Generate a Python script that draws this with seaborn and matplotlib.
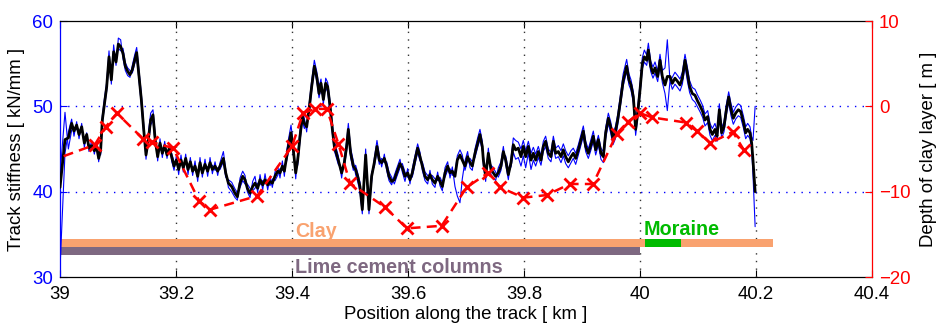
import matplotlib
matplotlib.use("Agg")
import matplotlib.pyplot as plt
import seaborn as sns
import pandas as pd

# ---------------- data ----------------
position_km = [
    39.000, 39.0086, 39.0144, 39.0201, 39.0241, 39.0287, 39.0328, 39.0374, 39.0420, 39.0460,
    39.0500, 39.0546, 39.0592, 39.0632, 39.0667, 39.0701, 39.0730, 39.0764, 39.0805, 39.0845,
    39.0885, 39.0925, 39.0966, 39.1006, 39.1046, 39.1086, 39.1126, 39.1167, 39.1207, 39.1247,
    39.1287, 39.1322, 39.1362, 39.1402, 39.1443, 39.1483, 39.1523, 39.1563, 39.1603, 39.1644,
    39.1684, 39.1724, 39.1764, 39.1805, 39.1845, 39.1885, 39.1925, 39.1966, 39.2006, 39.2046,
    39.2086, 39.2126, 39.2167, 39.2207, 39.2247, 39.2287,
    39.2328, 39.2374, 39.2414, 39.2454, 39.2500, 39.2546, 39.2587, 39.2627, 39.2673, 39.2719,
    39.2759, 39.2817, 39.2857, 39.2903, 39.2960, 39.3018, 39.3058, 39.3104, 39.3150, 39.3190,
    39.3230, 39.3276, 39.3322, 39.3362, 39.3408, 39.3449, 39.3495, 39.3535, 39.3581, 39.3621,
    39.3661, 39.3707, 39.3753, 39.3793, 39.3834, 39.3868, 39.3908, 39.3949, 39.3983, 39.4023,
    39.4064, 39.4098, 39.4138, 39.4179, 39.4213, 39.4253, 39.4294, 39.4339, 39.4385, 39.4426,
    39.4466, 39.4500, 39.4541, 39.4581, 39.4615, 39.4656, 39.4696, 39.4730,
    39.4798, 39.4856, 39.4902, 39.4942, 39.4971, 39.5011, 39.5057, 39.5097, 39.5132, 39.5172,
    39.5212, 39.5270, 39.5327, 39.5373, 39.5419, 39.5465, 39.5505, 39.5546, 39.5592, 39.5632,
    39.5672, 39.5718, 39.5764, 39.5804, 39.5862, 39.5902, 39.5948, 39.5994, 39.6034, 39.6074,
    39.6120, 39.6166, 39.6207, 39.6247, 39.6293, 39.6339, 39.6379, 39.6419, 39.6465, 39.6511,
    39.6551, 39.6592, 39.6638, 39.6684, 39.6724, 39.6764, 39.6810, 39.6850, 39.6896, 39.6936,
    39.6982, 39.7028, 39.7069, 39.7109, 39.7155, 39.7201, 39.7241, 39.7281,
    39.7299, 39.7339, 39.7385, 39.7431, 39.7471, 39.7511, 39.7557, 39.7603, 39.7644, 39.7684,
    39.7730, 39.7776, 39.7816, 39.7856, 39.7902, 39.7948, 39.7988, 39.8029, 39.8075, 39.8121,
    39.8161, 39.8201, 39.8247, 39.8293, 39.8333, 39.8373, 39.8419, 39.8465, 39.8506, 39.8546,
    39.8592, 39.8638, 39.8678, 39.8718, 39.8764, 39.8810, 39.8850, 39.8891, 39.8937, 39.8983,
    39.9023, 39.9063, 39.9109, 39.9155, 39.9195, 39.9236, 39.9282, 39.9327, 39.9368, 39.9408,
    39.9454, 39.9494, 39.9534, 39.9575, 39.9615, 39.9660, 39.9710,
    39.9770, 39.9810, 39.9845, 39.9885, 39.9925, 39.9960, 40.0000, 40.0040, 40.0075, 40.0115,
    40.0144, 40.0184, 40.0224, 40.0259, 40.0305, 40.0345, 40.0385, 40.0431, 40.0471, 40.0517,
    40.0557, 40.0603, 40.0649, 40.0690, 40.0730, 40.0776, 40.0816, 40.0856, 40.0902, 40.0948,
    40.0994, 40.1040, 40.1080, 40.1121, 40.1167, 40.1207, 40.1247, 40.1293, 40.1328, 40.1368,
    40.1408, 40.1448, 40.1489, 40.1529, 40.1569, 40.1609, 40.1649, 40.1695, 40.1736, 40.1782,
    40.1822, 40.1856, 40.1897, 40.1925, 40.1948, 40.1985,
]

stiffness_mean = [
    40.5, 46.1, 46.3, 48.0, 47.1, 47.8, 46.7, 47.6, 45.7, 46.7,
    45.1, 45.4, 44.8, 45.2, 43.9, 44.9, 48.4, 50.2, 52.3, 55.8,
    53.1, 56.4, 55.2, 57.3, 57.0, 56.2, 54.7, 54.1, 53.7, 54.3,
    55.4, 56.3, 53.5, 50.8, 47.3, 44.3, 46.1, 48.4, 49.0, 45.9,
    44.1, 45.7, 44.5, 45.4, 44.3, 45.1, 44.1, 43.0, 43.7, 42.6,
    43.7, 42.8, 43.9, 42.6, 43.5, 42.4,
    43.0, 41.8, 43.4, 42.2, 43.2, 42.4, 43.4, 42.6, 43.0, 42.4,
    43.0, 43.9, 42.2, 41.0, 40.6, 39.8, 39.4, 41.0, 41.8, 41.4,
    40.4, 39.8, 40.6, 41.0, 40.4, 41.4, 40.8, 41.4, 40.8, 41.2,
    41.0, 41.8, 42.4, 42.2, 43.0, 42.4, 44.1, 45.7, 46.9, 44.9,
    42.2, 43.7, 46.5, 48.8, 48.0, 47.6, 49.6, 52.3, 54.7, 53.5,
    51.5, 52.7, 50.8, 52.7, 52.3, 50.0, 47.3, 45.3,
    43.7, 42.2, 43.4, 45.3, 47.3, 44.5, 43.0, 42.6, 41.8, 40.6,
    37.9, 44.3, 37.9, 41.8, 43.4, 45.3, 43.7, 43.4, 43.9, 43.0,
    41.8, 41.2, 41.4, 42.2, 43.3, 42.8, 41.8, 42.2, 41.4, 42.2,
    43.7, 45.1, 44.1, 43.0, 41.8, 41.4, 42.0, 41.4, 41.0, 41.8,
    41.2, 40.6, 42.2, 43.0, 42.2, 42.4, 41.8, 43.7, 44.3, 43.7,
    43.0, 44.1, 43.4, 43.0, 44.5, 45.7, 46.7, 45.3,
    43.7, 41.8, 44.5, 42.6, 42.2, 41.8, 42.2, 43.0, 44.7, 43.7,
    42.0, 43.4, 45.5, 44.9, 45.1, 44.1, 45.3, 44.1, 45.3, 43.7,
    44.5, 43.7, 44.7, 43.7, 45.3, 45.9, 44.5, 44.1, 45.9, 44.5,
    44.7, 44.1, 44.9, 44.1, 43.5, 44.1, 44.5, 43.9, 44.9, 46.1,
    47.1, 45.3, 44.5, 45.5, 46.5, 44.9, 46.1, 44.5, 44.1, 46.9,
    48.6, 47.6, 46.2, 47.0, 48.4, 50.5, 53.0,
    54.7, 53.1, 52.5, 51.1, 47.3, 49.2, 51.9, 55.0, 55.8, 55.4,
    56.6, 54.7, 53.9, 54.5, 53.5, 55.4, 53.5, 52.5, 53.5, 53.5,
    52.7, 53.3, 52.9, 52.5, 53.3, 55.4, 53.9, 52.3, 51.5, 51.3,
    50.6, 50.0, 49.4, 48.4, 48.8, 47.3, 46.7, 47.3, 46.5, 49.6,
    46.9, 47.6, 49.6, 51.1, 49.6, 48.6, 49.2, 49.6, 49.4, 48.2,
    46.9, 47.3, 46.9, 45.7, 43.7, 40.0,
]

stiffness_run1 = [
    31.0, 44.5, 47.0, 48.5, 46.5, 48.2, 46.2, 48.0, 45.2, 46.9,
    44.7, 46.0, 44.4, 45.8, 43.5, 45.4, 48.9, 50.8, 52.8, 56.5,
    52.6, 57.2, 54.8, 58.0, 57.8, 55.6, 54.2, 53.6, 53.4, 54.8,
    56.0, 56.9, 54.2, 51.5, 47.9, 43.8, 46.8, 49.2, 49.6, 46.5,
    43.6, 46.2, 44.0, 45.9, 43.9, 45.6, 43.6, 42.5, 44.2, 42.0,
    44.3, 42.3, 44.4, 42.0, 44.0, 41.9,
    43.6, 41.2, 44.0, 41.7, 43.8, 41.8, 44.0, 42.1, 43.5, 41.9,
    43.4, 44.7, 42.6, 40.5, 40.0, 39.3, 39.0, 41.6, 42.4, 41.9,
    40.0, 39.3, 41.2, 41.8, 39.9, 42.0, 40.2, 42.1, 40.2, 41.8,
    40.5, 42.3, 43.0, 41.6, 43.6, 41.8, 44.8, 46.5, 47.8, 45.5,
    41.5, 44.3, 47.2, 49.4, 48.6, 47.0, 50.2, 53.0, 55.4, 54.1,
    52.3, 53.2, 50.2, 53.3, 52.8, 50.6, 47.9, 45.9,
    44.2, 41.6, 43.9, 45.9, 48.0, 45.1, 43.6, 42.0, 41.2, 40.0,
    37.4, 45.0, 37.4, 41.2, 43.9, 46.0, 44.3, 42.9, 44.4, 42.5,
    41.3, 40.8, 41.9, 42.7, 43.8, 42.3, 41.2, 42.7, 40.9, 42.7,
    44.2, 45.6, 44.6, 42.5, 41.3, 40.9, 42.5, 40.9, 40.5, 42.3,
    40.7, 40.1, 42.8, 43.5, 41.6, 42.9, 40.6, 39.5, 38.7, 41.5,
    43.6, 44.7, 42.8, 42.5, 45.0, 46.3, 47.3, 45.9,
    43.1, 41.2, 45.1, 42.0, 41.6, 41.3, 42.8, 43.5, 45.3, 43.2,
    41.4, 43.9, 46.3, 46.0, 45.8, 45.0, 46.0, 44.8, 45.9, 44.5,
    45.2, 44.4, 45.3, 44.2, 45.9, 46.5, 45.0, 44.6, 46.5, 45.1,
    45.4, 44.8, 45.6, 44.8, 44.2, 44.8, 45.1, 44.5, 45.5, 46.7,
    47.7, 45.9, 45.0, 46.1, 47.1, 45.4, 46.6, 45.1, 44.7, 47.5,
    49.2, 48.2, 46.8, 47.6, 49.0, 51.2, 53.8,
    55.5, 53.8, 53.1, 51.7, 47.9, 49.9, 52.6, 55.7, 56.6, 56.0,
    57.4, 55.3, 54.6, 55.2, 54.1, 56.1, 54.2, 54.5, 57.8, 53.0,
    53.4, 54.0, 53.6, 53.2, 54.0, 56.1, 54.6, 53.0, 52.2, 52.0,
    51.3, 50.7, 50.1, 49.1, 49.5, 48.0, 47.4, 48.0, 47.1, 50.3,
    47.5, 48.2, 50.2, 51.7, 50.3, 49.3, 49.9, 50.3, 50.1, 48.9,
    47.6, 48.0, 47.6, 46.4, 46.0, 50.0,
]

stiffness_run2 = [
    42.0, 49.3, 45.0, 47.2, 47.5, 47.3, 47.0, 47.1, 46.2, 46.2,
    45.5, 45.0, 45.3, 44.9, 44.4, 44.3, 48.0, 49.8, 51.8, 55.2,
    53.6, 56.0, 55.9, 56.8, 56.5, 56.8, 55.1, 54.5, 54.2, 53.9,
    55.0, 55.8, 53.0, 50.2, 46.8, 44.9, 45.5, 47.8, 48.4, 45.3,
    44.6, 45.2, 45.0, 44.9, 44.8, 44.6, 44.5, 43.5, 43.2, 43.0,
    43.2, 43.3, 43.4, 43.1, 43.0, 42.9,
    42.5, 42.3, 42.9, 42.7, 42.7, 42.9, 42.9, 43.1, 42.5, 42.8,
    42.6, 43.5, 41.7, 41.4, 41.1, 40.3, 39.9, 40.5, 41.3, 40.9,
    40.9, 40.4, 40.1, 40.4, 41.0, 40.8, 41.3, 40.9, 41.2, 40.7,
    41.5, 41.3, 41.9, 42.7, 42.5, 42.9, 43.6, 45.0, 46.3, 44.3,
    42.8, 43.1, 45.9, 48.3, 47.4, 48.1, 49.0, 51.8, 54.2, 53.0,
    51.0, 52.2, 51.3, 52.2, 51.7, 49.5, 46.8, 44.8,
    43.2, 42.7, 42.9, 44.8, 46.8, 44.0, 42.5, 43.1, 42.2, 41.1,
    38.4, 43.7, 38.5, 42.3, 42.9, 44.8, 43.2, 43.9, 43.4, 43.5,
    42.3, 41.7, 40.9, 41.7, 42.8, 43.3, 42.3, 41.7, 41.9, 41.7,
    43.2, 44.6, 43.6, 43.5, 42.3, 41.9, 41.5, 41.9, 41.5, 41.3,
    41.7, 41.1, 41.7, 42.5, 42.7, 41.9, 42.3, 44.2, 44.9, 44.3,
    42.5, 43.6, 43.9, 43.5, 44.0, 45.2, 46.1, 44.8,
    44.2, 42.4, 43.9, 43.1, 42.8, 42.3, 41.7, 42.5, 44.2, 44.2,
    42.6, 42.9, 44.6, 43.8, 44.0, 43.0, 44.2, 42.8, 44.5, 42.6,
    43.7, 43.0, 44.0, 43.1, 44.7, 45.3, 43.9, 43.5, 45.2, 43.9,
    44.1, 43.4, 44.2, 43.3, 42.8, 43.4, 43.9, 43.2, 44.3, 45.5,
    46.5, 44.7, 43.9, 44.9, 45.9, 44.3, 45.5, 43.8, 43.4, 46.2,
    48.0, 46.9, 45.5, 46.2, 47.8, 49.9, 52.4,
    54.1, 52.5, 51.9, 50.4, 46.6, 48.6, 51.3, 54.4, 55.2, 54.8,
    56.0, 54.1, 53.3, 53.9, 52.9, 54.8, 52.8, 51.5, 49.5, 53.0,
    52.0, 52.6, 52.2, 51.8, 52.6, 54.7, 53.0, 51.6, 50.8, 50.5,
    49.9, 49.3, 48.7, 47.7, 48.1, 46.6, 46.0, 46.6, 45.9, 48.9,
    46.3, 47.0, 49.0, 50.5, 48.9, 47.9, 48.5, 48.9, 48.7, 47.5,
    46.2, 46.6, 46.2, 45.0, 42.0, 35.9,
]

depth_pos_km = [38.98, 39.060, 39.079, 39.098, 39.143, 39.159, 39.195, 39.240, 39.259,
                39.340, 39.400, 39.419, 39.440, 39.460, 39.480, 39.500, 39.560, 39.598,
                39.658, 39.701, 39.738, 39.759, 39.799, 39.839, 39.879, 39.919, 39.960,
                39.979, 40.000, 40.021, 40.079, 40.098, 40.121, 40.160, 40.179]
depth_m = [-6.5, -4.5, -2.4, -0.8, -3.8, -4.2, -4.9, -11.1, -12.1,
           -10.5, -4.7, -0.8, -0.3, -0.3, -4.4, -9.0, -11.8, -14.3,
           -14.0, -9.5, -7.8, -9.5, -10.7, -10.4, -9.1, -9.1, -3.2,
           -1.8, -0.8, -1.3, -1.9, -2.9, -4.3, -3.0, -5.1]

layer_names = ["Clay", "Moraine", "Lime cement columns"]
layer_start_km = [39.0, 40.009, 39.0]
layer_end_km = [40.229, 40.070, 40.0]

x_ticks = [39.0, 39.2, 39.4, 39.6, 39.8, 40.0, 40.2, 40.4]
x_tick_labels = ["39", "39.2", "39.4", "39.6", "39.8", "40", "40.2", "40.4"]
left_ticks = [30, 40, 50, 60]
left_tick_labels = ["30", "40", "50", "60"]
right_ticks = [-20, -10, 0, 10]
right_tick_labels = ["\u221220", "\u221210", "0", "10"]

# ---------------- style ----------------
sns.set_theme(style="white")
plt.rcParams["font.family"] = ["Liberation Sans", "DejaVu Sans"]

C_BLUE = "#0000FF"
C_RED = "#FF0000"
C_CLAY = "#F9A26F"
C_LIME = "#7E6881"
C_MOR = "#00BB00"
DOT = (0, (1, 4.5))
FS = 13.4

fig = plt.figure(figsize=(9.37, 3.29), dpi=100)
ax = fig.add_axes([60 / 937, 52 / 329, 812 / 937, 256 / 329])
ax2 = ax.twinx()

df = pd.DataFrame({"pos": position_km, "mean": stiffness_mean,
                   "run1": stiffness_run1, "run2": stiffness_run2})

# blue individual runs, then black mean
for col in ["run1", "run2"]:
    sns.lineplot(data=df, x="pos", y=col, ax=ax, color=C_BLUE, linewidth=0.8,
                 estimator=None, sort=False, zorder=3)
sns.lineplot(data=df, x="pos", y="mean", ax=ax, color="black", linewidth=2.0,
             estimator=None, sort=False, zorder=4)

# layer bars
ax.barh(y=34.0, width=layer_end_km[0] - layer_start_km[0], left=layer_start_km[0],
        height=0.95, color=C_CLAY, zorder=2, linewidth=0)
ax.barh(y=34.0, width=layer_end_km[1] - layer_start_km[1], left=layer_start_km[1],
        height=0.95, color=C_MOR, zorder=2.1, linewidth=0)
ax.barh(y=33.0, width=layer_end_km[2] - layer_start_km[2], left=layer_start_km[2],
        height=0.95, color=C_LIME, zorder=2, linewidth=0)
ax.text(39.406, 35.35, layer_names[0], color=C_CLAY, fontsize=14.2, fontweight="bold",
        ha="left", va="center", zorder=5)
ax.text(40.006, 35.55, layer_names[1], color=C_MOR, fontsize=14.2, fontweight="bold",
        ha="left", va="center", zorder=5)
ax.text(39.406, 31.1, layer_names[2], color=C_LIME, fontsize=14.2, fontweight="bold",
        ha="left", va="center", zorder=5)

# depth of clay layer (right axis)
sns.lineplot(x=depth_pos_km, y=depth_m, ax=ax2, color=C_RED, linewidth=1.8,
             linestyle=(0, (4, 2.5)), marker="x", markersize=8,
             markeredgewidth=2, markeredgecolor=C_RED, estimator=None, sort=False)

# axes limits / ticks
ax.set_xlim(39.0, 40.4)
ax.set_ylim(30, 60)
ax2.set_ylim(-20, 10)
ax.set_xticks(x_ticks)
ax.set_xticklabels(x_tick_labels)
ax.set_yticks(left_ticks)
ax.set_yticklabels(left_tick_labels)
ax2.set_yticks(right_ticks)
ax2.set_yticklabels(right_tick_labels)

# grid
for xv in x_ticks[1:-1]:
    ax.axvline(xv, color="#333333", linewidth=1.0, linestyle=DOT, zorder=1)
for yv in left_ticks[1:-1]:
    ax.axhline(yv, color=C_BLUE, linewidth=1.0, linestyle=DOT, zorder=1)

ax.tick_params(axis="x", direction="in", length=5, width=0.8, colors="black",
               labelsize=FS, top=True, bottom=True, pad=6.5)
ax.tick_params(axis="y", direction="in", length=5, width=0.8, colors=C_BLUE,
               labelsize=FS, left=True, right=False, pad=5)
ax2.tick_params(axis="y", direction="in", length=5, width=0.8, colors=C_RED,
                labelsize=FS, right=True, left=False, pad=5)

for s in ["top", "bottom"]:
    ax.spines[s].set_color("black")
    ax.spines[s].set_linewidth(0.9)
    ax2.spines[s].set_visible(False)
ax.spines["left"].set_color(C_BLUE)
ax.spines["left"].set_linewidth(0.9)
ax.spines["right"].set_visible(False)
ax2.spines["left"].set_visible(False)
ax2.spines["right"].set_color(C_RED)
ax2.spines["right"].set_linewidth(0.9)

ax.set_xlabel("Position along the track [ km ]", fontsize=FS, color="black", labelpad=2)
ax.set_ylabel("Track stiffness [ kN/mm ]", fontsize=FS, color="black", labelpad=5)
ax2.set_ylabel("Depth of clay layer [ m ]", fontsize=FS, color="black", labelpad=7)

fig.savefig("out.png", dpi=100)
